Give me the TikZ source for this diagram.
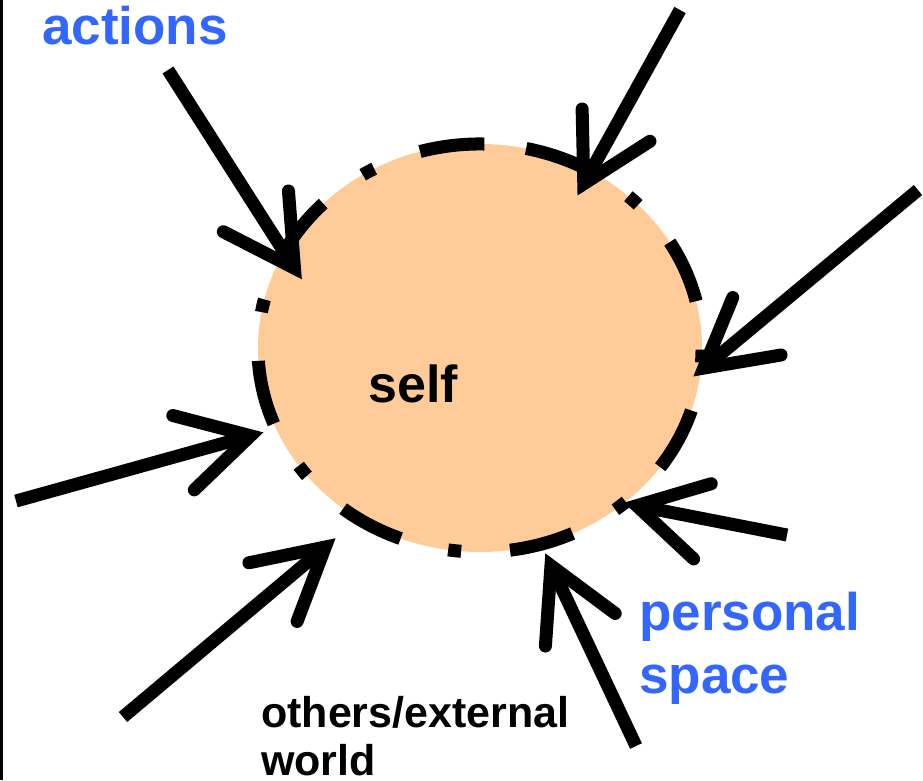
\documentclass[tikz,border=0pt]{standalone}
\usepackage{fontspec}
\setmainfont{Liberation Sans}
\usetikzlibrary{calc,shapes.geometric}
\definecolor{lblblue}{RGB}{51,102,255}
\definecolor{selffill}{RGB}{255,204,153}
\newcommand{\spacearrow}[5]{%
  \coordinate (#1tail) at #2;
  \coordinate (#1tip) at #3;
  \coordinate (#1v) at ($(#1tip)!14pt!(#1tail)$);
  \coordinate (#1ba) at ($#4!6pt!(#1v)$);
  \coordinate (#1bb) at ($#5!6pt!(#1v)$);
  \draw[shaft] (#1tail) -- (#1v);
  \draw[barb] (#1ba) -- (#1v) -- (#1bb);
}
\begin{document}
\begin{tikzpicture}[x=1pt,y=-1pt,
  shaft/.style={line width=13pt, line cap=butt},
  barb/.style={line width=13pt, line cap=round, line join=miter},
  bluelbl/.style={text=lblblue, font=\fontsize{53}{63}\selectfont\bfseries, inner sep=0pt, anchor=base west},
  biglbl/.style={text=black, font=\fontsize{52}{63}\selectfont\bfseries, inner sep=0pt, anchor=base west},
  smalllbl/.style={text=black, font=\fontsize{43}{49}\selectfont\bfseries, inner sep=0pt, anchor=base west},
  border/.style={line width=13pt, dash pattern=on 65pt off 49pt on 13pt off 49pt}
]
\useasboundingbox (0,0) rectangle (923,780);
\fill[black] (0,0) rectangle (2.5,780);
% the self region
\node[ellipse, fill=selffill, minimum width=444pt, minimum height=408pt, inner sep=0pt] (circ) at (480,348) {};
\draw[border] ($(circ.center)+(-78:222 and 204)$) arc[start angle=-78, end angle=282, x radius=222, y radius=204];
% arrows
\spacearrow{a}{(168,70)}{(302,280)}{(288,185)}{(218,229)}
\spacearrow{b}{(680,10)}{(577,196)}{(582,103)}{(655,138)}
\spacearrow{c}{(918,190)}{(693,377)}{(735,292)}{(787,354)}
\spacearrow{d}{(16,501)}{(264,432)}{(167,414)}{(190,494)}
\spacearrow{e}{(123,717)}{(336,538)}{(243,564)}{(295,627)}
\spacearrow{f}{(636,746)}{(545,553)}{(545,652)}{(620,617)}
\spacearrow{g}{(787,535)}{(623,503)}{(717,482)}{(698,563)}
% labels
\node[bluelbl] (actions) at (42,44) {actions};
\node[bluelbl] (personal) at (639,630) {personal};
\node[bluelbl] (space) at (639,693) {space};
\node[biglbl] (self) at (368,402) {self};
\node[smalllbl] (others) at (261,727) {others/external};
\node[smalllbl] (world) at (261,775) {world};
\end{tikzpicture}
\end{document}
